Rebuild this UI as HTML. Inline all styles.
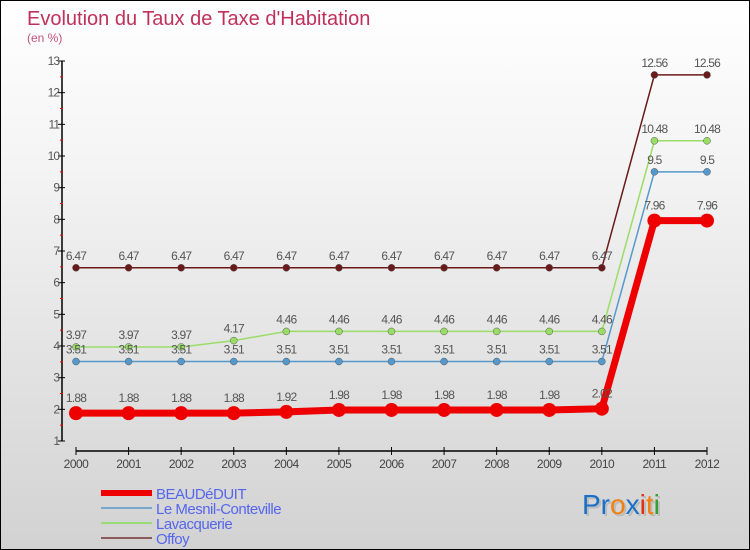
<!DOCTYPE html>
<html><head><meta charset="utf-8"><style>
body{margin:0}
#c{width:750px;height:550px;position:relative;box-sizing:border-box;border:1px solid #000;background:linear-gradient(#fff 0%,#f4f4f4 30%,#d2d2d2 100%);font-family:"Liberation Sans",sans-serif;overflow:hidden}
svg{position:absolute;left:0;top:0}
</style></head><body>
<div id="c">
<svg id="s" width="750" height="550">
<text x="26" y="24" font-size="20" fill="#c0305a">Evolution du Taux de Taxe d'Habitation</text>
<text x="26" y="41" font-size="12" fill="#c0507a">(en %)</text>
<g id="legend"></g>
<g font-size="28" font-family="Liberation Sans, sans-serif">
<text x="583" y="515" fill="#aaa" opacity="0.6">Proxiti</text>
<text x="581" y="513"><tspan fill="#1a70c8">Pr</tspan><tspan fill="#f08010">o</tspan><tspan fill="#1a70c8">x</tspan><tspan fill="#e03010">i</tspan><tspan fill="#f08010">t</tspan><tspan fill="#30a030">i</tspan></text>
</g>
</svg>
</div>
<script>
const years=["2000","2001","2002","2003","2004","2005","2006","2007","2008","2009","2010","2011","2012"];
const yTicks=[1,2,3,4,5,6,7,8,9,10,11,12,13];
const beaudeduit=[1.88,1.88,1.88,1.88,1.92,1.98,1.98,1.98,1.98,1.98,2.02,7.96,7.96];
const mesnil=[3.51,3.51,3.51,3.51,3.51,3.51,3.51,3.51,3.51,3.51,3.51,9.5,9.5];
const lavacquerie=[3.97,3.97,3.97,4.17,4.46,4.46,4.46,4.46,4.46,4.46,4.46,10.48,10.48];
const offoy=[6.47,6.47,6.47,6.47,6.47,6.47,6.47,6.47,6.47,6.47,6.47,12.56,12.56];
const seriesNames=["BEAUDéDUIT","Le Mesnil-Conteville","Lavacquerie","Offoy"];

const NS="http://www.w3.org/2000/svg";
const svg=document.getElementById('s');
const xS=i=>75+i*(706-75)/(years.length-1);
const yS=v=>440-(v-1)*(380/12);
function mk(t,a,p){const e=document.createElementNS(NS,t);for(const k in a)e.setAttribute(k,a[k]);(p||svg).appendChild(e);return e;}

let ax=mk('line',{x1:61,y1:yS(13),x2:61,y2:440,stroke:'#000','stroke-width':1.5});


yTicks.forEach(v=>{
  mk('line',{x1:57,y1:yS(v),x2:64,y2:yS(v),stroke:'#000'});
  if(v<13){mk('line',{x1:59,y1:yS(v+0.5),x2:62,y2:yS(v+0.5),stroke:'#f00'});}
  let t=mk('text',{x:58,y:yS(v)+4,'font-size':12,fill:'#555','text-anchor':'end','letter-spacing':'-1'});
  t.textContent=v;
  
  
});
let xa=mk('line',{x1:xS(0),y1:450,x2:xS(12),y2:450,stroke:'#000','stroke-width':1.5});


years.forEach((y,i)=>{
  mk('line',{x1:xS(i),y1:446,x2:xS(i),y2:454,stroke:'#000'});
  let t=mk('text',{x:xS(i),y:467,'font-size':12,fill:'#444','text-anchor':'middle','letter-spacing':'-0.5'});
  t.textContent=y;
  
  
});

const series=[
 {d:offoy,c:'#6b1a1a',w:1.5,r:3.5,n:'offoy'},
 {d:lavacquerie,c:'#99dd66',w:1.5,r:3.5,n:'lavacquerie'},
 {d:mesnil,c:'#5599cc',w:1.5,r:3.5,n:'mesnil-conteville'},
 {d:beaudeduit,c:'#ee0000',w:7,r:7,n:'beaudeduit'}
];
series.forEach(s=>{
  const g=mk('g',{});
  
  
  const pl=mk('polyline',{points:s.d.map((v,i)=>xS(i)+','+yS(v)).join(' '),fill:'none',stroke:s.c,'stroke-width':s.w},g);
  
  
  s.d.forEach((v,i)=>{
    const c=mk('circle',{cx:xS(i),cy:yS(v),r:s.r,fill:s.c,stroke:s.w>3?'none':'#555','stroke-width':0.5},g);
    
    
    const t=mk('text',{x:xS(i),y:yS(v)-(s.w>3?11:8),'font-size':12,fill:'#555','text-anchor':'middle','letter-spacing':'-0.8'},g);
    t.textContent=String(v);
    
    
  });
});

const lg=document.getElementById('legend');
const lc=[{c:'#ee0000',w:6},{c:'#7aa8cc',w:2},{c:'#99dd77',w:2},{c:'#8b5a5a',w:2}];
seriesNames.forEach((n,i)=>{
  const y=492+i*15;
  const l=mk('line',{x1:100,y1:y,x2:151,y2:y,stroke:lc[i].c,'stroke-width':lc[i].w},lg);
  
  
  const t=mk('text',{x:155,y:y+6,'font-size':15,fill:'#5566ee','letter-spacing':'-0.5'},lg);
  t.textContent=n;
  
  
});
</script>
</body></html>
